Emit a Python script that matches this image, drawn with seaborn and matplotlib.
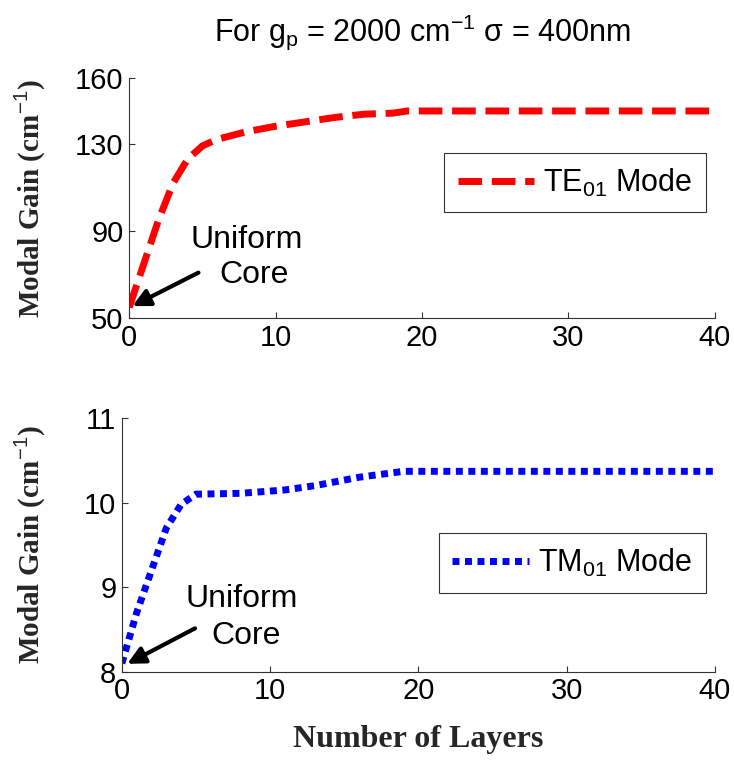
import matplotlib
matplotlib.use("Agg")
import matplotlib.pyplot as plt
import seaborn as sns
import pandas as pd

# data
te_layers = [0, 1, 2, 3, 4, 5, 6, 8, 10, 12, 14, 16, 18, 19, 20, 25, 30, 35, 40]
te_gain = [55, 75, 95, 112, 123, 129, 132, 135.5, 138, 140, 142, 143.5, 144, 145, 145, 145, 145, 145, 145]
tm_layers = [0, 1, 2, 3, 4, 5, 8, 11, 13, 16, 19, 20, 25, 30, 35, 40]
tm_gain = [8.1, 8.7, 9.2, 9.7, 9.98, 10.1, 10.11, 10.15, 10.2, 10.3, 10.37, 10.37, 10.37, 10.37, 10.37, 10.37]

te = pd.DataFrame({"layers": te_layers, "gain": te_gain})
tm = pd.DataFrame({"layers": tm_layers, "gain": tm_gain})

sns.set_style("ticks")
plt.rcParams["font.family"] = ["Liberation Sans", "DejaVu Sans"]
plt.rcParams["mathtext.fontset"] = "custom"
plt.rcParams["mathtext.rm"] = "Liberation Sans"
plt.rcParams["text.color"] = "black"
plt.rcParams["xtick.direction"] = "in"
plt.rcParams["ytick.direction"] = "in"

fig = plt.figure(figsize=(7.34, 7.67), dpi=100)
ax1 = fig.add_axes([0.176, 0.585, 0.798, 0.313])
ax2 = fig.add_axes([0.166, 0.124, 0.808, 0.331])

sns.lineplot(data=te, x="layers", y="gain", ax=ax1, color="red", lw=5,
             label="TE$_{01}$ Mode")
ax1.lines[0].set_dashes([3.4, 1.4])
sns.lineplot(data=tm, x="layers", y="gain", ax=ax2, color="blue", lw=5,
             label="TM$_{01}$ Mode")
ax2.lines[0].set_dashes([1, 0.8])

ylab = {"family": "Liberation Serif", "weight": "bold", "size": 21}
for ax in (ax1, ax2):
    ax.set_xlim(0, 40)
    ax.set_xticks([0, 10, 20, 30, 40])
    ax.tick_params(labelsize=21, length=4, width=0.8, colors="#333333",
                   labelcolor="black", pad=4)
    sns.despine(ax=ax)
    for s in ("left", "bottom"):
        ax.spines[s].set_color("#333333")
        ax.spines[s].set_linewidth(0.8)
    ax.set_ylabel("Modal Gain (cm$^{-1}$)", fontdict=ylab)
    ax.set_xlabel("")
    leg = ax.legend(loc="center right", bbox_to_anchor=(0.985, 0.5), fontsize=22,
                    frameon=True, fancybox=False, edgecolor="black",
                    handlelength=2.5, handletextpad=0.3, borderpad=0.45,
                    borderaxespad=0)
    leg.get_frame().set_linewidth(0.8)

ax1.set_ylim(50, 160)
ax1.set_yticks([50, 90, 130, 160])
ax2.set_ylim(8, 11)
ax2.set_yticks([8, 9, 10, 11])
ax1.legend_.set_bbox_to_anchor((0.985, 0.565))
ax2.legend_.set_bbox_to_anchor((0.985, 0.43))
ax1.yaxis.set_label_coords(-0.14, 0.5)
ax2.yaxis.set_label_coords(-0.126, 0.5)

# "Uniform Core" annotations
arrow = dict(arrowstyle="-|>", color="black", lw=3, mutation_scale=26)
ax1.annotate("", xy=(0.05, 55), xytext=(4.9, 71.5), arrowprops=arrow)
ax1.text(8.0, 86, "Uniform", fontsize=23, ha="center", va="center")
ax1.text(8.5, 70, "Core", fontsize=23, ha="center", va="center")
ax2.annotate("", xy=(0.2, 8.08), xytext=(5.1, 8.53), arrowprops=arrow)
ax2.text(8.1, 8.86, "Uniform", fontsize=23, ha="center", va="center")
ax2.text(8.4, 8.43, "Core", fontsize=23, ha="center", va="center")

ax2.set_xlabel("Number of Layers", fontdict={"family": "Liberation Serif",
                                             "weight": "bold", "size": 23},
               labelpad=14)
fig.text(0.575, 0.958, "For g$_\\mathrm{p}$ = 2000 cm$^{\\mathrm{-1}}$ \u03c3 = 400nm",
         fontsize=22, ha="center", va="center")

fig.savefig("out.png", dpi=100)
